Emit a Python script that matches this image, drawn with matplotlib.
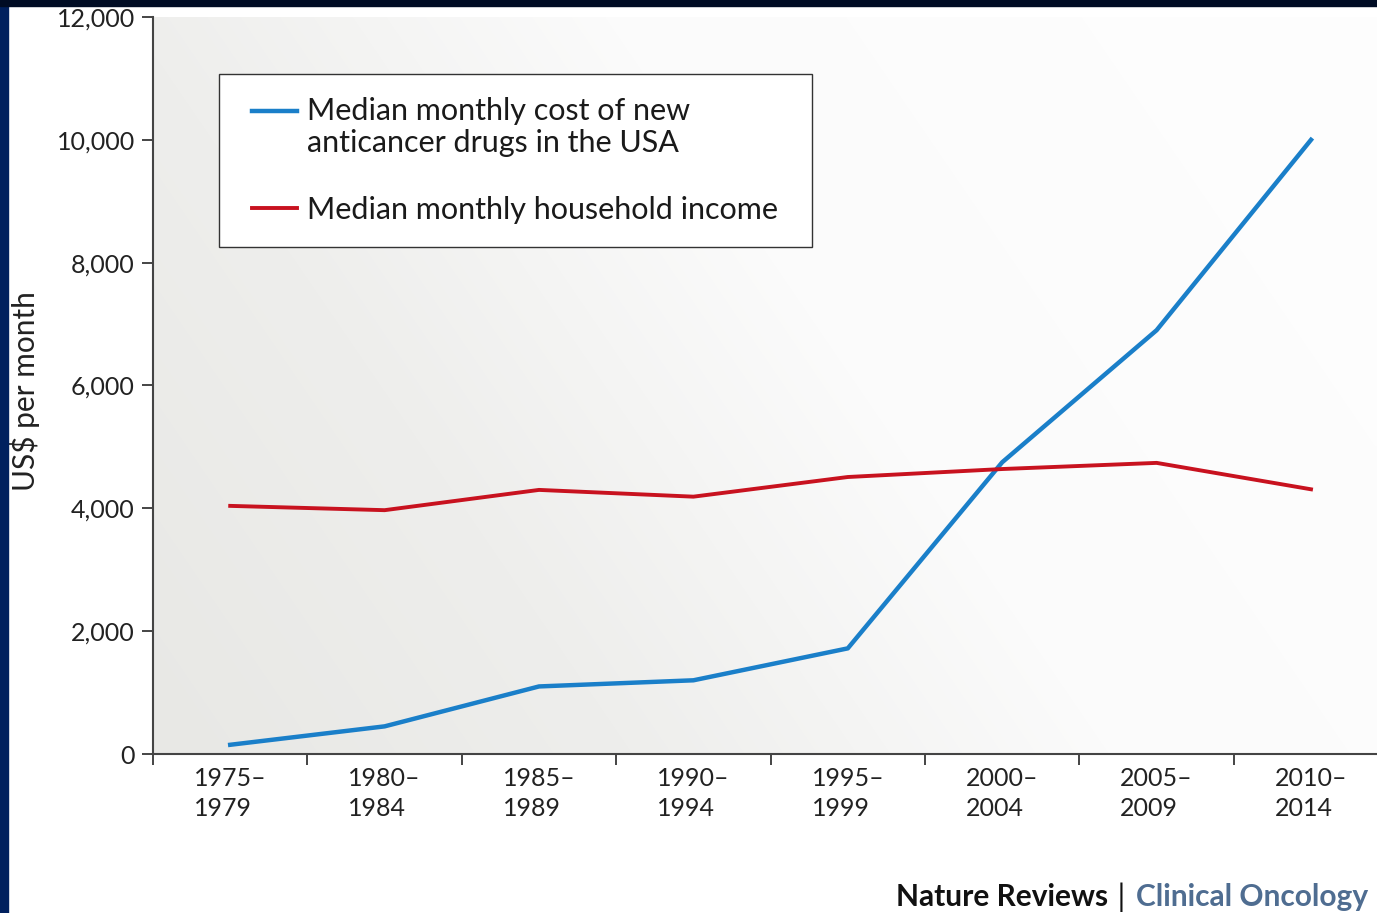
import numpy as np
import matplotlib
matplotlib.use('Agg')
import matplotlib.pyplot as plt
from matplotlib.patches import Rectangle
from matplotlib.colors import LinearSegmentedColormap

# data
periods = ['1975–\n1979', '1980–\n1984', '1985–\n1989', '1990–\n1994',
           '1995–\n1999', '2000–\n2004', '2005–\n2009', '2010–\n2014']
drug_cost = [150, 450, 1100, 1200, 1720, 4750, 6900, 10000]
household_income = [4040, 3970, 4300, 4190, 4510, 4640, 4740, 4310]
yticks = [0, 2000, 4000, 6000, 8000, 10000, 12000]
ytick_labels = ['0', '2,000', '4,000', '6,000', '8,000', '10,000', '12,000']
label_drug = 'Median monthly cost of new\nanticancer drugs in the USA'
label_income = 'Median monthly household income'

plt.rcParams['font.family'] = ['Lato', 'DejaVu Sans']

fig = plt.figure(figsize=(13.77, 9.13), dpi=100)
fig.patch.set_facecolor('white')

# dark frame on the left and top edges
fig.patches.append(Rectangle((0, 0), 8/1377, 1, transform=fig.transFigure,
                             color='#00205e', zorder=0))
fig.patches.append(Rectangle((0, 1 - 6/913), 1, 6/913, transform=fig.transFigure,
                             color='#000c24', zorder=0))

ax = fig.add_axes([153/1377, 1 - 754/913, 1 - 153/1377, (754 - 17)/913])
x = np.arange(len(periods))

# soft grey-to-white background gradient
gx, gy = np.meshgrid(np.linspace(0, 1, 300), np.linspace(0, 1, 200))
t = np.clip(0.85 * gx + 0.35 * gy, 0, 1)
cmap = LinearSegmentedColormap.from_list('bg', ['#e8e8e5', '#eeeeec', '#fbfbfb', '#fdfdfd'])
ax.imshow(t, cmap=cmap, extent=[0, 1, 0, 1], transform=ax.transAxes,
          origin='lower', aspect='auto', zorder=0, interpolation='bilinear')

ax.plot(x, drug_cost, color='#1a7fc9', lw=3.2, label=label_drug, zorder=3)
ax.plot(x, household_income, color='#c8121f', lw=2.8, label=label_income, zorder=3)

ax.set_xticks(np.arange(-0.5, 8, 1))
ax.set_xticklabels([])
ax.set_xticks(x, minor=True)
ax.set_xticklabels(periods, minor=True, fontsize=18, color='#222222',
                   ha='center', multialignment='left', linespacing=1.38)
ax.tick_params(axis='x', which='minor', length=0, pad=9)
ax.tick_params(axis='x', which='major', length=8, width=1.4, color='#444444')

ax.set_yticks(yticks)
ax.set_yticklabels(ytick_labels, fontsize=18, color='#222222')
ax.tick_params(axis='y', length=8, width=1.4, color='#444444', pad=5)

ax.set_xlim(-0.5, -0.5 + 1224/154.4)
ax.set_ylim(0, 12000)

for s in ['top', 'right']:
    ax.spines[s].set_visible(False)
for s in ['left', 'bottom']:
    ax.spines[s].set_color('#444444')
    ax.spines[s].set_linewidth(1.5)

ax.set_ylabel('US$ per month', fontsize=21.5, color='#222222')
ax.yaxis.set_label_coords(-0.092, 0.492)

fs = 22
fs_px = fs * 100 / 72
bpad = 0.75
lx0 = (219 - 153) / 1224
lx1 = (812 - 153) / 1224
leg = ax.legend(loc='upper left', bbox_to_anchor=(lx0, 0.9227, lx1 - lx0, 0.0),
                mode='expand', borderaxespad=0,
                fontsize=fs, frameon=True, fancybox=False, framealpha=1,
                edgecolor='#333333', handlelength=1.74, handletextpad=0.4,
                borderpad=bpad, labelspacing=1.27)
leg.get_frame().set_linewidth(1.0)
for txt in leg.get_texts():
    txt.set_color('#1a1a1a')
    txt.set_linespacing(1.17)
# key lines: a bit shorter and inset, blue one level with the first label line
start = 219 + bpad * fs_px
for i, ln in enumerate(leg.get_lines()):
    y0 = float(np.asarray(ln.get_ydata())[0])
    if i == 0:
        y0 += 11.9
    ln.set_data([(252 - start) * 0.72, (297 - start) * 0.72], [y0, y0])

# journal credit line
t1 = fig.text(896/1377, 1 - 897/913, 'Nature Reviews', fontsize=21.5, fontweight='bold',
              color='#111111', va='center', ha='left')
t2 = fig.text(0, 0, ' | ', fontsize=21.5, color='#111111', va='center', ha='left')
t3 = fig.text(0, 0, 'Clinical Oncology', fontsize=21.5, fontweight='bold',
              color='#4f6d91', va='center', ha='left')
fig.canvas.draw()
r = fig.canvas.get_renderer()
bb = t1.get_window_extent(r)
t2.set_position((bb.x1 / 1377 + 2/1377, 1 - 897/913))
bb = t2.get_window_extent(r)
t3.set_position((bb.x1 / 1377 + 3/1377, 1 - 897/913))

fig.savefig('out.png', dpi=100)
